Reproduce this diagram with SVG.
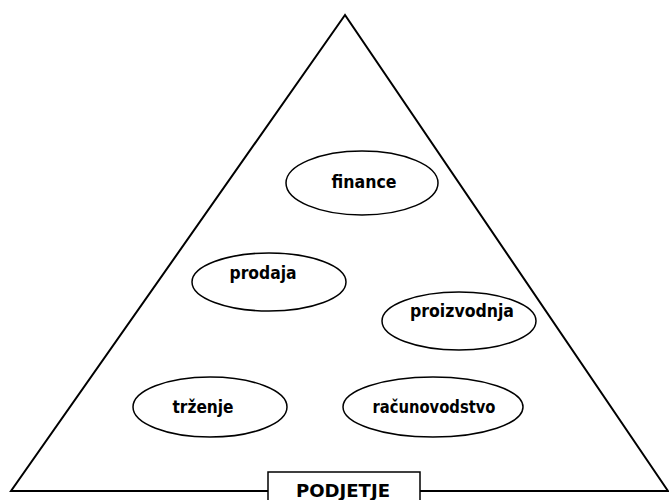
<svg xmlns="http://www.w3.org/2000/svg" width="669" height="500" viewBox="0 0 669 500">
  <style>
    .outline { fill: none; stroke: #000; stroke-width: 2; stroke-linejoin: miter; }
    .dept ellipse { fill: #fff; stroke: #000; stroke-width: 1.5; }
    .lbl { font-family: "DejaVu Sans Condensed", "DejaVu Sans", sans-serif; font-weight: bold; font-size: 17px; fill: #000; text-anchor: middle; }
    .base rect { fill: #fff; stroke: #000; stroke-width: 1.5; }
  </style>
  <rect width="669" height="500" fill="#fff"/>

  <!-- company pyramid -->
  <g id="pyramid">
    <polygon class="outline" points="345,15 11,491 668,491"/>
  </g>

  <g id="connectors"></g>

  <g id="finance" class="dept">
    <ellipse cx="362" cy="183" rx="76" ry="32"/>
    <text class="lbl" x="364" y="188" textLength="65" lengthAdjust="spacingAndGlyphs">finance</text>
  </g>

  <g id="prodaja" class="dept">
    <ellipse cx="269" cy="282" rx="77" ry="29"/>
    <text class="lbl" x="263" y="279" textLength="67" lengthAdjust="spacingAndGlyphs">prodaja</text>
  </g>

  <g id="proizvodnja" class="dept">
    <ellipse cx="459" cy="321" rx="77" ry="29"/>
    <text class="lbl" x="462" y="317" textLength="104" lengthAdjust="spacingAndGlyphs">proizvodnja</text>
  </g>

  <g id="trzenje" class="dept">
    <ellipse cx="210" cy="407" rx="77" ry="30"/>
    <text class="lbl" x="203" y="413" textLength="61" lengthAdjust="spacingAndGlyphs">trženje</text>
  </g>

  <g id="racunovodstvo" class="dept">
    <ellipse cx="433" cy="407" rx="90" ry="30"/>
    <text class="lbl" x="434" y="413" textLength="123" lengthAdjust="spacingAndGlyphs">računovodstvo</text>
  </g>

  <g id="podjetje" class="base">
    <rect x="268" y="472" width="152" height="40"/>
    <text class="lbl" x="343" y="497" textLength="94" lengthAdjust="spacingAndGlyphs">PODJETJE</text>
  </g>
</svg>
